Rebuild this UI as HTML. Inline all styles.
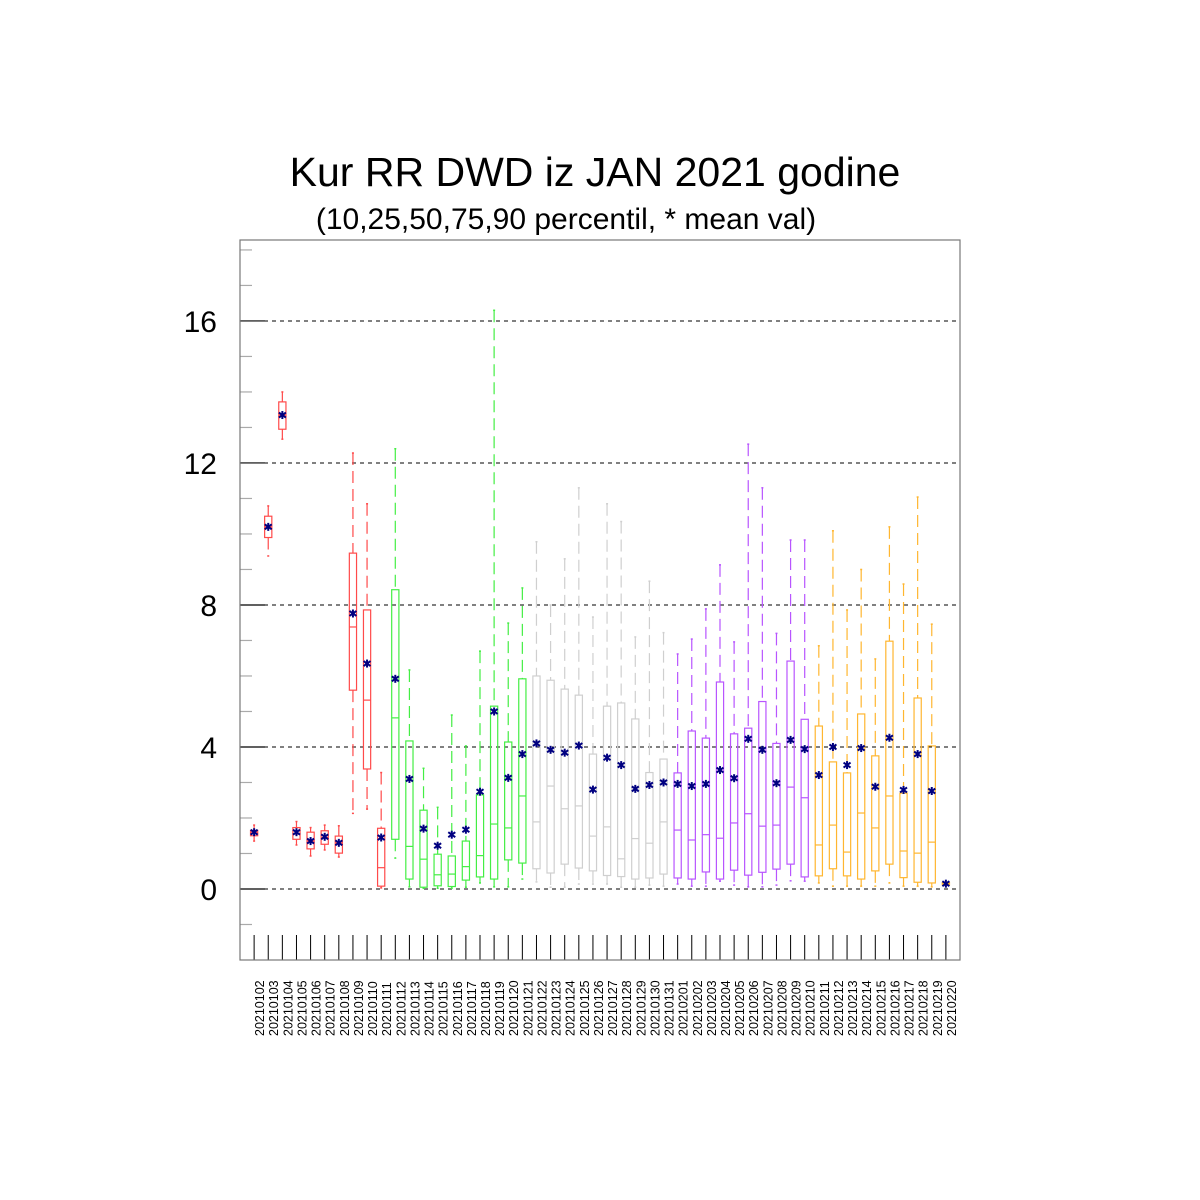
<!DOCTYPE html>
<html><head><meta charset="utf-8"><style>
body{margin:0;background:#fff;}
svg{display:block;font-family:"Liberation Sans",sans-serif;}
</style></head><body>
<svg id="chart" width="1200" height="1200" viewBox="0 0 1200 1200" xmlns="http://www.w3.org/2000/svg">
<rect width="1200" height="1200" fill="#fff"/>
<text x="595" y="186" font-size="41" text-anchor="middle">Kur RR DWD iz JAN 2021 godine</text>
<text x="566" y="229" font-size="30" text-anchor="middle">(10,25,50,75,90 percentil, * mean val)</text>
<g id="grid"></g>
<g id="marks"></g>
<g id="axes"></g>
<rect x="240" y="240" width="720" height="720" fill="none" stroke="#777" stroke-width="1.2"/>
</svg>
<script>
const categories = ["20210102","20210103","20210104","20210105","20210106","20210107","20210108","20210109","20210110","20210111","20210112","20210113","20210114","20210115","20210116","20210117","20210118","20210119","20210120","20210121","20210122","20210123","20210124","20210125","20210126","20210127","20210128","20210129","20210130","20210131","20210201","20210202","20210203","20210204","20210205","20210206","20210207","20210208","20210209","20210210","20210211","20210212","20210213","20210214","20210215","20210216","20210217","20210218","20210219","20210220"];
const p10 = [1.35,9.38,12.67,1.24,0.93,1.1,0.9,2.13,2.25,0.03,0.87,0.06,0.02,0.02,0.02,0.05,0.17,0.06,0.06,0.28,0.2,0.05,0.05,0.14,0.14,0.14,0.05,0.05,0.11,0.08,0.14,0.08,0.08,0.22,0.11,0.06,0.06,0.11,0.23,0.22,0.17,0.08,0.08,0.08,0.08,0.17,0.08,0.08,0.06,0.1];
const p25 = [1.5,9.9,12.95,1.4,1.13,1.26,1.01,5.6,3.38,0.08,1.4,0.28,0.05,0.09,0.07,0.25,0.34,0.28,0.82,0.73,0.57,0.45,0.7,0.59,0.51,0.38,0.35,0.28,0.31,0.42,0.31,0.28,0.48,0.28,0.53,0.39,0.47,0.56,0.7,0.34,0.37,0.57,0.37,0.28,0.51,0.7,0.32,0.19,0.17,0.12];
const p50 = [1.6,10.2,13.35,1.55,1.35,1.45,1.3,7.38,5.32,0.6,4.82,1.2,0.84,0.4,0.42,0.63,0.94,1.83,1.72,2.62,1.89,2.9,2.26,2.34,1.49,1.75,0.85,1.42,1.29,1.89,1.66,1.38,1.53,1.43,1.86,2.12,1.77,1.8,2.87,2.57,1.24,1.8,1.04,2.14,1.72,2.62,1.07,1.01,1.32,0.15];
const p75 = [1.65,10.5,13.72,1.73,1.6,1.64,1.49,9.46,7.86,1.71,8.43,4.17,2.22,0.98,0.93,1.35,2.65,5.15,4.14,5.92,6.0,5.88,5.63,5.46,3.8,5.15,5.24,4.79,3.28,3.66,3.27,4.45,4.25,5.83,4.37,4.53,5.28,4.1,6.42,4.78,4.59,3.58,3.27,4.93,3.75,6.98,2.7,5.38,4.03,0.18];
const p90 = [1.8,10.79,14.0,1.9,1.73,1.8,1.78,12.28,10.85,3.28,12.4,6.17,3.4,2.3,4.9,4.03,6.7,16.3,7.49,8.48,9.78,8.0,9.3,11.3,7.66,10.85,10.35,7.1,8.67,7.22,6.62,7.04,7.89,9.13,6.96,12.53,11.3,7.2,9.83,9.83,6.85,10.09,7.86,9.0,6.48,10.2,8.59,11.04,7.46,0.2];
const means = [1.6,10.2,13.35,1.6,1.35,1.47,1.3,7.76,6.35,1.45,5.92,3.1,1.7,1.22,1.53,1.67,2.74,5.0,3.13,3.8,4.1,3.92,3.84,4.04,2.8,3.7,3.49,2.82,2.93,3.0,2.96,2.9,2.96,3.35,3.12,4.23,3.92,2.98,4.2,3.94,3.21,4.0,3.49,3.97,2.88,4.26,2.79,3.8,2.76,0.15];
const yTicks = [0,4,8,12,16];
const groupColors = ["#ff4a4a","#44ee44","#cfcfcf","#b855ff","#ffb630"];

const NS="http://www.w3.org/2000/svg";
const X0=240, X1=960, Y0=960, Y1=240, YMIN=-2, YMAX=18.28;
const step=(X1-X0)/(categories.length+1);
function xScale(i){return X0+step*(i+1);}
function yScale(v){return Y0-(v-YMIN)/(YMAX-YMIN)*(Y0-Y1);}
function mk(tag,attrs,parent){const e=document.createElementNS(NS,tag);for(const k in attrs)e.setAttribute(k,attrs[k]);parent.appendChild(e);return e;}
const grid=document.getElementById('grid'),marks=document.getElementById('marks'),axes=document.getElementById('axes');

for(let v=-1;v<=18;v++){
  if(yTicks.includes(v))continue;
  const t=mk('line',{x1:X0,x2:X0+12,y1:yScale(v),y2:yScale(v),stroke:'#aaa','stroke-width':1.2},axes);
  
  
}
yTicks.forEach(v=>{
  const y=yScale(v);
  const g=mk('line',{x1:X0,x2:X1,y1:y,y2:y,stroke:'#000','stroke-width':1,'stroke-dasharray':'4,4'},grid);
  
  
  const t=mk('line',{x1:X0,x2:X0+25,y1:y,y2:y,stroke:'#000','stroke-width':1.2},axes);
  
  
  const l=mk('text',{x:217,y:y+11,'font-size':30,'text-anchor':'end'},axes);
  l.textContent=v;
  
  
});
categories.forEach((c,i)=>{
  const x=xScale(i);
  const t=mk('line',{x1:x,x2:x,y1:935,y2:960,stroke:'#000','stroke-width':1},axes);
  
  
  const lx=x+10;
  const l=mk('text',{x:lx,y:1036,'font-size':12.5,transform:`rotate(-90 ${lx} 1036)`},axes);
  l.textContent=c;
  
  
  const col=groupColors[Math.floor(i/10)];
  const g=mk('g',{},marks);
  
  
  const w=3.6;
  mk('line',{x1:x,x2:x,y1:yScale(p90[i]),y2:yScale(p75[i]),stroke:col,'stroke-width':1.2,'stroke-dasharray':'12,6'},g);
  mk('line',{x1:x,x2:x,y1:yScale(p25[i]),y2:yScale(p10[i]),stroke:col,'stroke-width':1.2,'stroke-dasharray':'12,6'},g);
  mk('line',{x1:x-1,x2:x+1,y1:yScale(p90[i]),y2:yScale(p90[i]),stroke:col,'stroke-width':1.5},g);
  mk('line',{x1:x-1,x2:x+1,y1:yScale(p10[i]),y2:yScale(p10[i]),stroke:col,'stroke-width':1.5},g);
  mk('rect',{x:x-w,y:yScale(p75[i]),width:2*w,height:Math.max(1,yScale(p25[i])-yScale(p75[i])),fill:'none',stroke:col,'stroke-width':1.2},g);
  mk('line',{x1:x-w,x2:x+w,y1:yScale(p50[i]),y2:yScale(p50[i]),stroke:col,'stroke-width':1.2},g);
  const my=yScale(means[i]);
  const m=mk('g',{stroke:'#000080','stroke-width':2},marks);
  
  
  mk('line',{x1:x,x2:x,y1:my-4,y2:my+4},m);
  mk('line',{x1:x-3.5,x2:x+3.5,y1:my-2.5,y2:my+2.5},m);
  mk('line',{x1:x-3.5,x2:x+3.5,y1:my+2.5,y2:my-2.5},m);
});
</script>
</body></html>
